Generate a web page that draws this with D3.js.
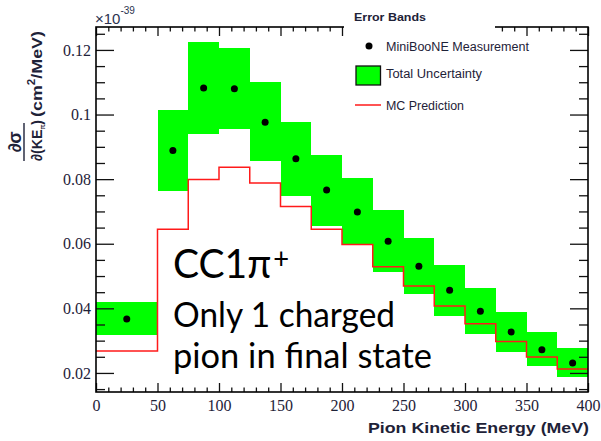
<!DOCTYPE html>
<html>
<head>
<meta charset="utf-8">
<script src="https://cdn.jsdelivr.net/npm/d3@7"></script>
<style>
  body { margin: 0; background: #fff; }
  svg { display: block; }
</style>
</head>
<body>
<svg id="chart" width="601" height="441"></svg>
<script>
// Bin edges in pion kinetic energy (MeV)
const binEdges = [0, 50, 75, 100, 125, 150, 175, 200, 225, 250, 275, 300, 325, 350, 375, 400];
// Measured differential cross section (x 1e-39 cm^2/MeV)
const measured = [0.0367, 0.0889, 0.1082, 0.1080, 0.0976, 0.0863, 0.0766, 0.0698, 0.0608, 0.0530, 0.0456, 0.0391, 0.0327, 0.0272, 0.0231];
// Total uncertainty band limits
const bandHigh = [0.0419, 0.1014, 0.1224, 0.1205, 0.1100, 0.0978, 0.0875, 0.0805, 0.0704, 0.0619, 0.0534, 0.0464, 0.0390, 0.0326, 0.0278];
const bandLow  = [0.0317, 0.0764, 0.0941, 0.0954, 0.0857, 0.0748, 0.0655, 0.0598, 0.0514, 0.0443, 0.0376, 0.0321, 0.0266, 0.0220, 0.0187];
// Monte Carlo prediction per bin
const mcPrediction = [0.0268, 0.0645, 0.0799, 0.0837, 0.0788, 0.0715, 0.0645, 0.0598, 0.0529, 0.0469, 0.0407, 0.0352, 0.0297, 0.0249, 0.0212];

const xTickValues = [0, 50, 100, 150, 200, 250, 300, 350, 400];
const xTickLabels = ["0", "50", "100", "150", "200", "250", "300", "350", "400"];
const yTickValues = [0.02, 0.04, 0.06, 0.08, 0.1, 0.12];
const yTickLabels = ["0.02", "0.04", "0.06", "0.08", "0.1", "0.12"];

const svg = d3.select("#chart");
const x = d3.scaleLinear().domain([0, 400]).range([96, 588]);
const y = d3.scaleLinear().domain([0.0141, 0.1271]).range([392, 27]);

const bins = measured.map((v, i) => ({
  lo: binEdges[i], hi: binEdges[i + 1], v,
  top: bandHigh[i], bot: bandLow[i], mc: mcPrediction[i]
}));

// Uncertainty bands
svg.append("g")
  .attr("shape-rendering", "crispEdges")
  .selectAll("rect").data(bins).join("rect")
  .attr("x", d => x(d.lo))
  .attr("width", d => x(d.hi) - x(d.lo))
  .attr("y", d => y(d.top))
  .attr("height", d => y(d.bot) - y(d.top))
  .attr("fill", "#00ff00");

// MC prediction as a step histogram
const mcPts = bins.map(d => [d.lo, d.mc]);
mcPts.push([binEdges[binEdges.length - 1], mcPrediction[mcPrediction.length - 1]]);
svg.append("path")
  .datum(mcPts)
  .attr("d", d3.line().x(d => x(d[0])).y(d => y(d[1])).curve(d3.curveStepAfter))
  .attr("fill", "none")
  .attr("stroke", "#ff1a1a")
  .attr("stroke-width", 1.5);

// Measurement points at bin centres
svg.append("g").selectAll("circle").data(bins).join("circle")
  .attr("cx", d => x((d.lo + d.hi) / 2))
  .attr("cy", d => y(d.v))
  .attr("r", 3.5)
  .attr("fill", "#000");

// Axes: ticks drawn inward on all four sides
const axes = svg.append("g");
const tickColor = "#111";
function place(gen, transform) {
  const g = axes.append("g").attr("transform", transform).call(gen);
  g.select(".domain").remove();
  g.selectAll(".tick line").attr("stroke", tickColor).attr("stroke-width", 1.3);
  return g;
}
const xMinor = d3.range(0, 401, 10).filter(v => v % 50 !== 0);
const yMinor = d3.range(3, 26).filter(k => k % 4 !== 0).map(k => k * 0.005);

const bottom = place(d3.axisBottom(x).tickValues(xTickValues)
  .tickFormat((d, i) => xTickLabels[i]).tickSizeInner(-9).tickSizeOuter(0).tickPadding(8), "translate(0,392)");
place(d3.axisBottom(x).tickValues(xMinor).tickFormat("").tickSizeInner(-4.5).tickSizeOuter(0), "translate(0,392)");
place(d3.axisTop(x).tickValues(xTickValues).tickFormat("").tickSizeInner(-9).tickSizeOuter(0), "translate(0,27)");
place(d3.axisTop(x).tickValues(xMinor).tickFormat("").tickSizeInner(-4.5).tickSizeOuter(0), "translate(0,27)");

const left = place(d3.axisLeft(y).tickValues(yTickValues)
  .tickFormat((d, i) => yTickLabels[i]).tickSizeInner(-18).tickSizeOuter(0).tickPadding(5), "translate(96,0)");
place(d3.axisLeft(y).tickValues(yMinor).tickFormat("").tickSizeInner(-9).tickSizeOuter(0), "translate(96,0)");
place(d3.axisRight(y).tickValues(yTickValues).tickFormat("").tickSizeInner(-18).tickSizeOuter(0), "translate(588,0)");
place(d3.axisRight(y).tickValues(yMinor).tickFormat("").tickSizeInner(-9).tickSizeOuter(0), "translate(588,0)");

[bottom, left].forEach(g => g.selectAll(".tick text")
  .attr("font-family", "'Liberation Serif', 'Times New Roman', serif")
  .attr("font-size", 16)
  .attr("fill", "#1e2238"));

// Plot frame
svg.append("rect")
  .attr("x", x(0)).attr("y", y.range()[1])
  .attr("width", x(400) - x(0)).attr("height", y.range()[0] - y.range()[1])
  .attr("fill", "none").attr("stroke", "#000").attr("stroke-width", 1.6);

// Exponent label
const expo = svg.append("text")
  .attr("x", 95).attr("y", 24)
  .attr("font-family", "'Liberation Sans', Arial, sans-serif")
  .attr("font-size", 15).attr("fill", "#2b3350");
expo.append("tspan").text("\u00d710");
expo.append("tspan").attr("dy", -10).attr("font-size", 10).text("-39");

// Axis titles
svg.append("text")
  .attr("x", 589).attr("y", 433)
  .attr("text-anchor", "end")
  .attr("font-family", "'Liberation Sans', Arial, sans-serif")
  .attr("font-weight", "bold").attr("font-size", 15).attr("fill", "#1e2238")
  .attr("textLength", 221).attr("lengthAdjust", "spacingAndGlyphs")
  .text("Pion Kinetic Energy (MeV)");

const yTitle = svg.append("g")
  .attr("transform", "rotate(-90)")
  .attr("font-family", "'Liberation Sans', Arial, sans-serif")
  .attr("font-weight", "bold").attr("fill", "#1e2238");
yTitle.append("text")
  .attr("x", -142).attr("y", 20.5).attr("text-anchor", "middle")
  .attr("font-size", 18).text("\u2202\u03c3");
yTitle.append("line")
  .attr("x1", -161).attr("x2", -123).attr("y1", 24).attr("y2", 24)
  .attr("stroke", "#1e2238").attr("stroke-width", 1.4);
const den = yTitle.append("text")
  .attr("x", -161).attr("y", 41.5).attr("font-size", 15.5)
  .attr("textLength", 41).attr("lengthAdjust", "spacingAndGlyphs");
den.append("tspan").text("\u2202(KE");
den.append("tspan").attr("dy", 3).attr("font-size", 7).text("\u03c0");
den.append("tspan").attr("dy", -3).text(")");
const units = yTitle.append("text")
  .attr("x", -117).attr("y", 41.5).attr("font-size", 15.5)
  .attr("textLength", 86).attr("lengthAdjust", "spacingAndGlyphs");
units.append("tspan").text("(cm");
units.append("tspan").attr("dy", -7).attr("font-size", 10).text("2");
units.append("tspan").attr("dy", 7).text("/MeV)");

// Legend
const legend = svg.append("g")
  .attr("font-family", "'Liberation Sans', Arial, sans-serif")
  .attr("fill", "#1e2238");
legend.append("rect")
  .attr("x", 344).attr("y", 0).attr("width", 151).attr("height", 114)
  .attr("fill", "#fff");
legend.append("text")
  .attr("x", 354).attr("y", 20.5)
  .attr("font-weight", "bold").attr("font-size", 11.5)
  .attr("textLength", 72).attr("lengthAdjust", "spacingAndGlyphs")
  .text("Error Bands");
legend.append("circle").attr("cx", 369).attr("cy", 46).attr("r", 3.5).attr("fill", "#000");
legend.append("text")
  .attr("x", 386).attr("y", 51).attr("font-size", 12)
  .attr("textLength", 143).attr("lengthAdjust", "spacingAndGlyphs")
  .text("MiniBooNE Measurement");
legend.append("rect")
  .attr("x", 356).attr("y", 66).attr("width", 24.5).attr("height", 19)
  .attr("fill", "#00ff00").attr("stroke", "#111").attr("stroke-width", 1.3);
legend.append("text")
  .attr("x", 386).attr("y", 77.5).attr("font-size", 12)
  .attr("textLength", 96).attr("lengthAdjust", "spacingAndGlyphs")
  .text("Total Uncertainty");
legend.append("line")
  .attr("x1", 355).attr("x2", 381).attr("y1", 105).attr("y2", 105)
  .attr("stroke", "#ff1a1a").attr("stroke-width", 1.5);
legend.append("text")
  .attr("x", 386).attr("y", 109.5).attr("font-size", 12)
  .attr("textLength", 78).attr("lengthAdjust", "spacingAndGlyphs")
  .text("MC Prediction");

// Annotation
const note = svg.append("g")
  .attr("font-family", "Lato, 'Open Sans', sans-serif")
  .attr("fill", "#000");
const title = note.append("text")
  .attr("x", 173).attr("y", 278).attr("font-size", 40)
  .attr("textLength", 116).attr("lengthAdjust", "spacingAndGlyphs");
title.append("tspan").text("CC1\u03c0");
title.append("tspan").attr("dx", 2).attr("dy", -9).attr("font-size", 28).text("+");
note.append("text")
  .attr("x", 173).attr("y", 327).attr("font-size", 34)
  .attr("textLength", 222).attr("lengthAdjust", "spacingAndGlyphs")
  .text("Only 1 charged");
note.append("text")
  .attr("x", 173).attr("y", 368).attr("font-size", 34)
  .attr("textLength", 259).attr("lengthAdjust", "spacingAndGlyphs")
  .text("pion in final state");
</script>
</body>
</html>
